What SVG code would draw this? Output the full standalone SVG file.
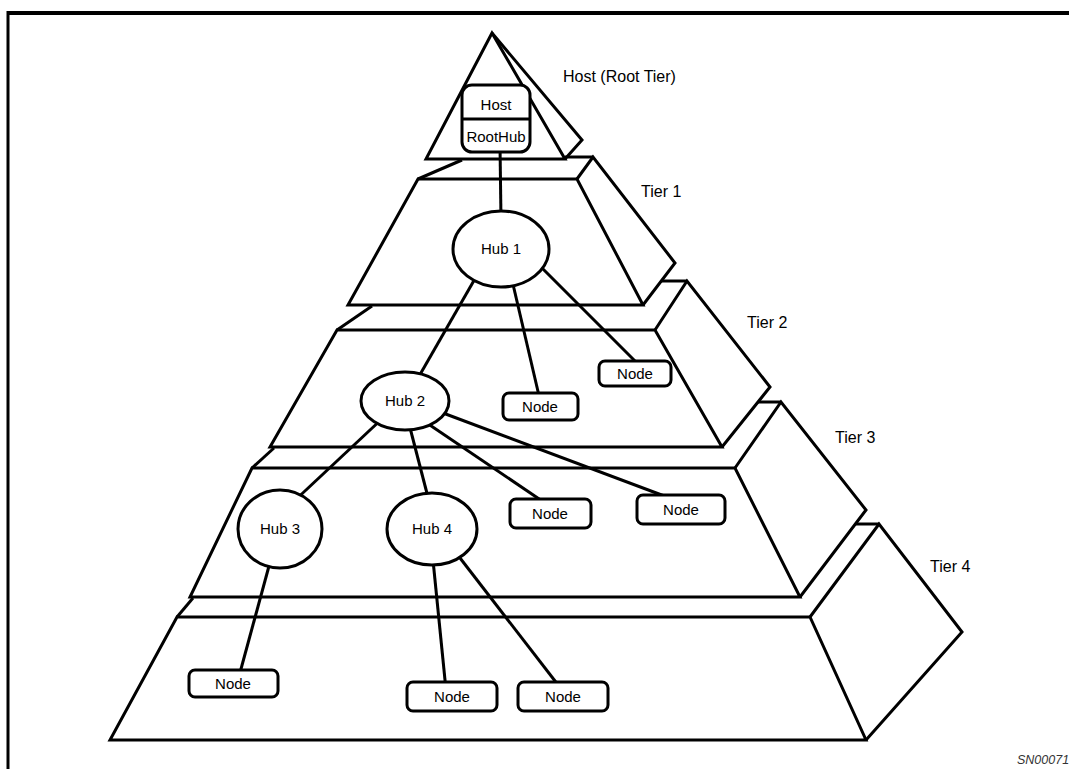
<svg xmlns="http://www.w3.org/2000/svg" width="1069" height="769" viewBox="0 0 1069 769">
<style>
.ln{fill:none;stroke:#000;stroke-width:3;stroke-linejoin:miter;stroke-linecap:butt}
.face{fill:#fff;stroke:#000;stroke-width:3;stroke-linejoin:miter}
.hub{fill:#fff;stroke:#000;stroke-width:3}
.box{fill:#fff;stroke:#000;stroke-width:3}
.conn line{stroke:#000;stroke-width:3}
.t{font-family:"Liberation Sans",Arial,sans-serif;font-size:15px;fill:#000;text-anchor:middle}
.lbl{font-family:"Liberation Sans",Arial,sans-serif;font-size:16px;fill:#000}
</style>
<rect width="1069" height="769" fill="#fff"/>
<g id="frame">
<line x1="7" y1="13" x2="1069" y2="13" stroke="#000" stroke-width="4"/>
<line x1="8" y1="11" x2="8" y2="769" stroke="#000" stroke-width="3"/>
</g>
<g id="pyramid">
<g id="tier4">
<polygon class="face" points="177,617 810,617 866,740 110,740"/>
<polyline class="ln" points="810,617 879,524 962,632 866,740"/>
<line class="ln" x1="177" y1="617" x2="193" y2="598"/>
<line class="ln" x1="855" y1="524" x2="879" y2="524"/>
</g>
<g id="tier3">
<polygon class="face" points="252,468 735,468 800,597 190,597"/>
<polyline class="ln" points="735,468 781,402 866,510 800,597"/>
<line class="ln" x1="252" y1="468" x2="274" y2="448"/>
<line class="ln" x1="758" y1="402" x2="781" y2="402"/>
</g>
<g id="tier2">
<polygon class="face" points="337,330 655,330 722,447 270,447"/>
<polyline class="ln" points="655,330 687,281 770,387 722,447"/>
<line class="ln" x1="337" y1="330" x2="372" y2="306"/>
<line class="ln" x1="661" y1="281" x2="687" y2="281"/>
</g>
<g id="tier1">
<polygon class="face" points="418,179 577,179 643,305 348,305"/>
<polyline class="ln" points="577,179 593,157 675,263 643,305"/>
<line class="ln" x1="418" y1="179" x2="462" y2="160"/>
<line class="ln" x1="565" y1="157" x2="593" y2="157"/>
</g>
<g id="root-tier">
<polygon class="face" points="492,33 426,159 565,159"/>
<polyline class="ln" points="492,33 582,140 565,159"/>
</g>
</g>
<g id="tier-labels">
<text class="lbl" x="563" y="82">Host (Root Tier)</text>
<text class="lbl" x="641" y="197">Tier 1</text>
<text class="lbl" x="747" y="328">Tier 2</text>
<text class="lbl" x="835" y="443">Tier 3</text>
<text class="lbl" x="930" y="572">Tier 4</text>
</g>
<g id="connectors" class="conn">
<line x1="500" y1="145" x2="501" y2="220"/>
<line x1="480" y1="270" x2="414" y2="385"/>
<line x1="512" y1="280" x2="540" y2="400"/>
<line x1="536" y1="262" x2="640" y2="366"/>
<line x1="385" y1="416" x2="290" y2="505"/>
<line x1="408" y1="420" x2="430" y2="505"/>
<line x1="415" y1="415" x2="548" y2="505"/>
<line x1="435" y1="410" x2="675" y2="500"/>
<line x1="272" y1="555" x2="238" y2="680"/>
<line x1="432" y1="550" x2="446" y2="690"/>
<line x1="450" y1="545" x2="562" y2="690"/>
</g>
<g id="host">
<rect class="box" x="462" y="85" width="68" height="67" rx="10"/>
<line class="ln" x1="462" y1="119" x2="530" y2="119"/>
<text class="t" x="496" y="110">Host</text>
<text class="t" x="496" y="142">RootHub</text>
</g>
<g id="hub1">
<ellipse class="hub" cx="501" cy="249" rx="48" ry="38"/>
<text class="t" x="501" y="254">Hub 1</text>
</g>
<g id="hub2">
<ellipse class="hub" cx="405" cy="401" rx="44" ry="29"/>
<text class="t" x="405" y="406">Hub 2</text>
</g>
<g id="hub3">
<ellipse class="hub" cx="280" cy="529" rx="42" ry="39"/>
<text class="t" x="280" y="534">Hub 3</text>
</g>
<g id="hub4">
<ellipse class="hub" cx="432" cy="529" rx="45" ry="36"/>
<text class="t" x="432" y="534">Hub 4</text>
</g>
<g id="node-t2a">
<rect class="box" x="599" y="361" width="72" height="25" rx="6"/>
<text class="t" x="635" y="379">Node</text>
</g>
<g id="node-t2b">
<rect class="box" x="503" y="393" width="75" height="27" rx="6"/>
<text class="t" x="540" y="412">Node</text>
</g>
<g id="node-t3a">
<rect class="box" x="510" y="499" width="81" height="29" rx="6"/>
<text class="t" x="550" y="519">Node</text>
</g>
<g id="node-t3b">
<rect class="box" x="637" y="495" width="88" height="29" rx="6"/>
<text class="t" x="681" y="515">Node</text>
</g>
<g id="node-t4a">
<rect class="box" x="189" y="670" width="89" height="27" rx="6"/>
<text class="t" x="233" y="689">Node</text>
</g>
<g id="node-t4b">
<rect class="box" x="407" y="682" width="90" height="29" rx="6"/>
<text class="t" x="452" y="702">Node</text>
</g>
<g id="node-t4c">
<rect class="box" x="518" y="682" width="90" height="29" rx="6"/>
<text class="t" x="563" y="702">Node</text>
</g>
<text x="1017" y="764" font-family="Liberation Sans,Arial,sans-serif" font-size="12.5" font-style="italic" fill="#333">SN00071</text>
</svg>
